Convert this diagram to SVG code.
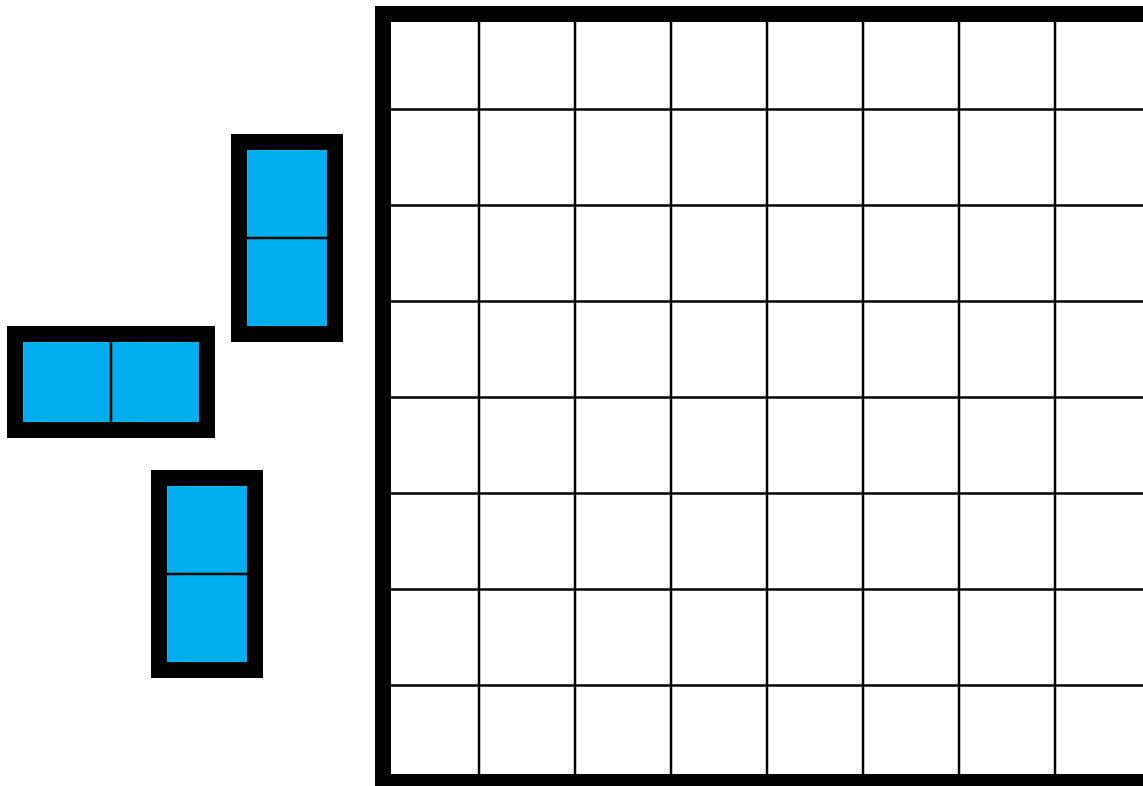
<svg xmlns="http://www.w3.org/2000/svg" width="1143" height="786" viewBox="0 0 1143 786">
  <style>
    .frame { fill: #000000; }
    .cell { fill: #00AEEF; }
    .div { stroke: #000000; stroke-width: 2.5; }
    .grid { stroke: #000000; stroke-width: 2.5; fill: none; }
    .border { stroke: #000000; stroke-width: 16; fill: #ffffff; }
  </style>
  <rect x="0" y="0" width="1143" height="786" fill="#ffffff"/>
  <g id="board">
    <rect class="border" x="383" y="14" width="768" height="768"/>
    <g class="grid">
      <line x1="479" y1="22" x2="479" y2="774"/>
      <line x1="575" y1="22" x2="575" y2="774"/>
      <line x1="671" y1="22" x2="671" y2="774"/>
      <line x1="767" y1="22" x2="767" y2="774"/>
      <line x1="863" y1="22" x2="863" y2="774"/>
      <line x1="959" y1="22" x2="959" y2="774"/>
      <line x1="1055" y1="22" x2="1055" y2="774"/>
      <line x1="391" y1="109.5" x2="1143" y2="109.5"/>
      <line x1="391" y1="205.5" x2="1143" y2="205.5"/>
      <line x1="391" y1="301.5" x2="1143" y2="301.5"/>
      <line x1="391" y1="397.5" x2="1143" y2="397.5"/>
      <line x1="391" y1="493.5" x2="1143" y2="493.5"/>
      <line x1="391" y1="589.5" x2="1143" y2="589.5"/>
      <line x1="391" y1="685.5" x2="1143" y2="685.5"/>
    </g>
  </g>
  <g id="domino-vertical-top">
    <rect class="frame" x="231" y="134" width="112" height="208"/>
    <rect class="cell" x="247" y="150" width="80" height="176"/>
    <line class="div" x1="247" y1="238" x2="327" y2="238"/>
  </g>
  <g id="domino-horizontal">
    <rect class="frame" x="7" y="326" width="208" height="112"/>
    <rect class="cell" x="23" y="342" width="176" height="80"/>
    <line class="div" x1="111" y1="342" x2="111" y2="422"/>
  </g>
  <g id="domino-vertical-bottom">
    <rect class="frame" x="151" y="470" width="112" height="208"/>
    <rect class="cell" x="167" y="486" width="80" height="176"/>
    <line class="div" x1="167" y1="574" x2="247" y2="574"/>
  </g>
</svg>
